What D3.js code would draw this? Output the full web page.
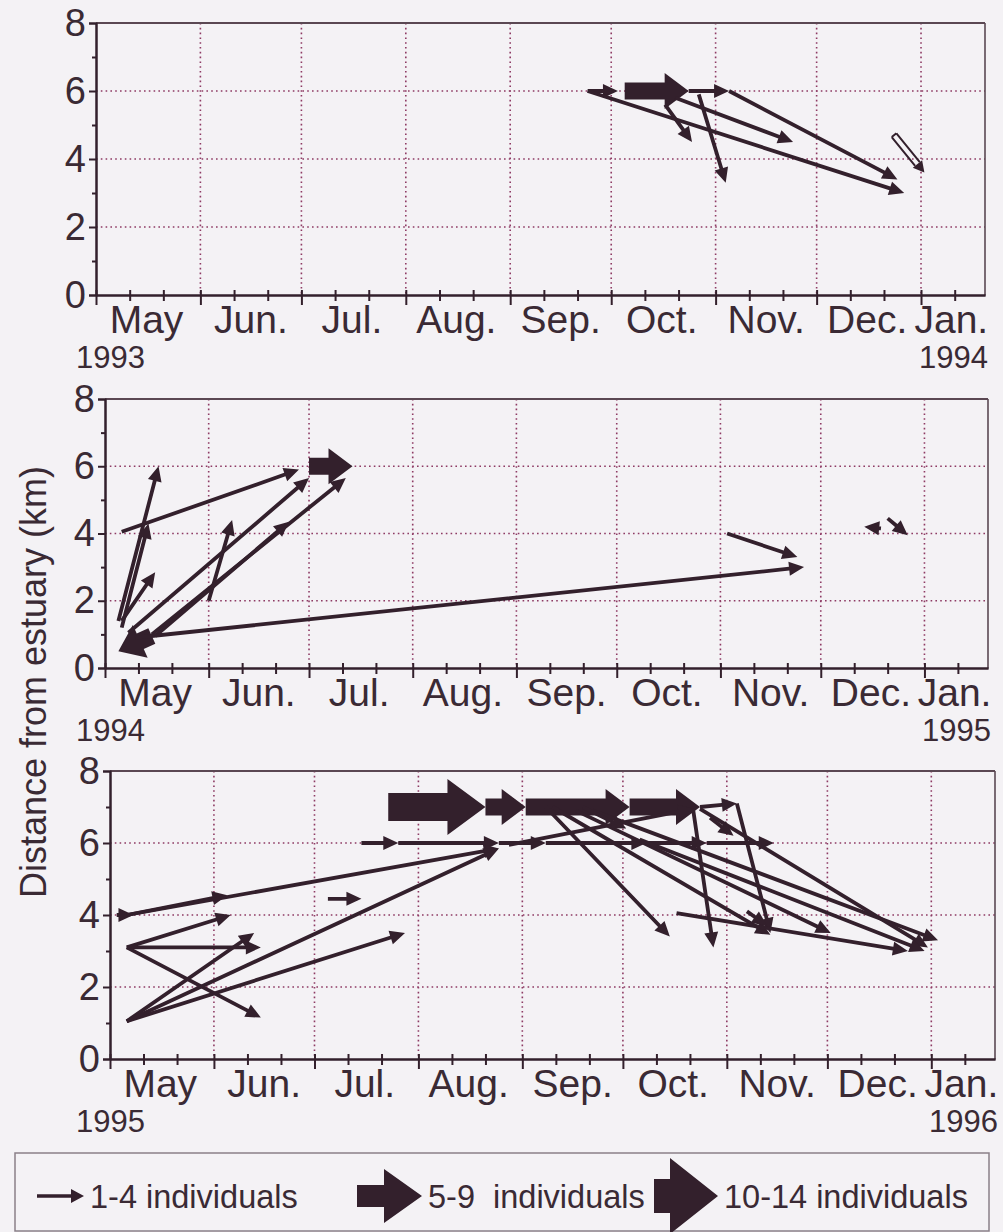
<!DOCTYPE html>
<html>
<head>
<meta charset="utf-8">
<script src="https://cdn.jsdelivr.net/npm/d3@7"></script>
<style>
  html, body { margin: 0; padding: 0; background: #f4f2f5; }
  svg { display: block; font-family: "Liberation Sans", Arial, sans-serif; }
</style>
</head>
<body>
<svg id="chart" width="1003" height="1232"></svg>
<script>
const MONTH_LABELS = ["May", "Jun.", "Jul.", "Aug.", "Sep.", "Oct.", "Nov.", "Dec.", "Jan."];
const Y_MAJOR = [0, 2, 4, 6, 8];
const Y_MINOR = [1, 3, 5, 7];
const Y_GRID = [2, 4, 6];
const PANEL_YEARS = [1993, 1994, 1995];
const Y_TITLE = "Distance from estuary (km)";
const LEGEND_LABELS = ["1-4 individuals", "5-9\u00a0 individuals", "10-14 individuals"];

// each move: [from date, from km, to date, to km, size class]
// size class 1 = 1-4, 2 = 5-9, 3 = 10-14 individuals, 0 = open (outlined) arrow
const moves1993 = [
  ["1993-09-24", 6.0, "1993-10-03", 6.0, 1],
  ["1993-10-05", 6.0, "1993-10-24", 6.0, 2],
  ["1993-10-24", 6.0, "1993-11-05", 6.0, 1],
  ["1993-09-24", 6.0, "1993-12-27", 3.0, 1],
  ["1993-11-05", 6.0, "1993-12-25", 3.4, 1],
  ["1993-10-20", 5.8, "1993-11-24", 4.5, 1],
  ["1993-10-17", 5.6, "1993-10-25", 4.5, 1],
  ["1993-10-27", 5.9, "1993-11-04", 3.3, 1],
  ["1993-12-24", 4.7, "1994-01-02", 3.6, 0]
];

const moves1994 = [
  ["1994-05-15", 0.95, "1994-05-05", 0.5, 2],
  ["1994-07-01", 6.0, "1994-07-14", 6.0, 2],
  ["1994-05-06", 4.05, "1994-06-28", 5.9, 1],
  ["1994-05-05", 1.4, "1994-05-17", 6.0, 1],
  ["1994-05-06", 1.4, "1994-05-16", 2.85, 1],
  ["1994-05-06", 1.2, "1994-05-14", 4.3, 1],
  ["1994-05-08", 1.05, "1994-07-01", 5.65, 1],
  ["1994-05-15", 1.0, "1994-07-12", 5.65, 1],
  ["1994-05-16", 0.95, "1994-06-25", 4.35, 1],
  ["1994-06-01", 2.0, "1994-06-08", 4.4, 1],
  ["1994-05-10", 0.9, "1994-11-26", 3.0, 1],
  ["1994-11-03", 4.0, "1994-11-24", 3.3, 1],
  ["1994-12-19", 4.15, "1994-12-14", 4.2, 1],
  ["1994-12-21", 4.45, "1994-12-27", 3.95, 1]
];

const moves1995 = [
  ["1995-07-23", 7.0, "1995-08-21", 7.0, 3],
  ["1995-08-21", 7.0, "1995-09-02", 7.0, 2],
  ["1995-09-02", 7.0, "1995-10-03", 7.0, 2],
  ["1995-10-03", 7.0, "1995-10-24", 7.0, 2],
  ["1995-10-24", 7.0, "1995-11-04", 7.1, 1],
  ["1995-07-15", 6.0, "1995-07-26", 6.0, 1],
  ["1995-07-26", 6.0, "1995-08-25", 6.0, 1],
  ["1995-08-25", 6.0, "1995-09-08", 6.0, 1],
  ["1995-09-08", 6.0, "1995-10-08", 6.0, 1],
  ["1995-10-08", 6.0, "1995-10-26", 6.0, 1],
  ["1995-10-26", 6.0, "1995-11-15", 6.0, 1],
  ["1995-05-03", 4.0, "1995-05-08", 4.0, 1],
  ["1995-05-06", 4.0, "1995-06-05", 4.55, 1],
  ["1995-05-06", 4.0, "1995-08-25", 5.85, 1],
  ["1995-05-06", 3.1, "1995-06-06", 4.0, 1],
  ["1995-05-06", 3.1, "1995-06-15", 3.1, 1],
  ["1995-05-06", 3.1, "1995-06-15", 1.15, 1],
  ["1995-05-06", 1.05, "1995-06-13", 3.5, 1],
  ["1995-05-06", 1.05, "1995-07-28", 3.5, 1],
  ["1995-05-06", 1.05, "1995-08-25", 5.85, 1],
  ["1995-07-05", 4.45, "1995-07-15", 4.45, 1],
  ["1995-08-28", 5.95, "1995-10-22", 6.95, 1],
  ["1995-09-08", 7.0, "1995-10-15", 3.4, 1],
  ["1995-09-10", 7.0, "1995-11-14", 3.45, 1],
  ["1995-09-17", 6.9, "1995-12-02", 3.5, 1],
  ["1995-09-22", 6.9, "1996-01-03", 3.3, 1],
  ["1995-10-22", 6.9, "1995-10-28", 3.1, 1],
  ["1995-11-04", 7.1, "1995-11-14", 3.5, 1],
  ["1995-10-24", 6.95, "1995-12-31", 3.1, 1],
  ["1995-10-06", 6.1, "1995-12-30", 3.0, 1],
  ["1995-10-17", 4.05, "1995-12-25", 3.0, 1],
  ["1995-11-07", 4.1, "1995-11-13", 3.7, 1],
  ["1995-10-27", 6.7, "1995-11-03", 6.2, 1],
  ["1995-09-19", 7.0, "1995-10-02", 6.4, 1]
];

const INK = "#33202c";
const TEXT = "#3a2a34";
const GRID = "#8e3b64";
const BG = "#f4f2f5";

// arrow shapes in the plots and in the legend
const PLOT_ARROW = {
  0: { shaft: 3, head: 6, headLen: 11 },
  1: { shaft: 1.9, head: 7, headLen: 15 },
  2: { shaft: 8.5, head: 18, headLen: 24 },
  3: { shaft: 14, head: 28, headLen: 38 }
};
const LEGEND_ARROW = {
  1: { shaft: 1.8, head: 7, headLen: 13 },
  2: { shaft: 11, head: 27, headLen: 38 },
  3: { shaft: 17, head: 38, headLen: 48 }
};

const parseDate = d3.timeParse("%Y-%m-%d");
const svg = d3.select("#chart");

svg.append("rect").attr("width", 1003).attr("height", 1232).attr("fill", BG);

const panels = [
  { year: 1993, moves: moves1993, left: 96, right: 985, top: 23, bottom: 295 },
  { year: 1994, moves: moves1994, left: 105, right: 988, top: 399, bottom: 668 },
  { year: 1995, moves: moves1995, left: 110, right: 995, top: 771, bottom: 1059 }
];

function arrowPath(len, s) {
  const hl = Math.min(s.headLen, len);
  const b = len - hl;
  return `M0,${-s.shaft}L${b},${-s.shaft}L${b},${-s.head}L${len},0L${b},${s.head}L${b},${s.shaft}L0,${s.shaft}Z`;
}

function drawArrow(g, x1, y1, x2, y2, s, hollow) {
  const dx = x2 - x1, dy = y2 - y1;
  const len = Math.sqrt(dx * dx + dy * dy);
  const ang = Math.atan2(dy, dx) * 180 / Math.PI;
  const a = g.append("g").attr("transform", `translate(${x1},${y1}) rotate(${ang})`);
  if (hollow) {
    // outlined shaft with a solid head
    const b = len - s.headLen;
    a.append("path")
      .attr("d", `M0,${-s.shaft}L${b},${-s.shaft}M0,${s.shaft}L${b},${s.shaft}M0,${-s.shaft}L0,${s.shaft}`)
      .attr("fill", "none").attr("stroke", INK).attr("stroke-width", 2);
    a.append("path")
      .attr("d", `M${b},${-s.head}L${len},0L${b},${s.head}Z`)
      .attr("fill", INK);
    return;
  }
  a.append("path")
    .attr("d", arrowPath(len, s))
    .attr("fill", INK);
}

panels.forEach((p) => {
  const start = new Date(p.year, 4, 1);
  const end = new Date(p.year + 1, 0, 20);
  const x = d3.scaleTime().domain([start, end]).range([p.left, p.right]);
  const y = d3.scaleLinear().domain([0, 8]).range([p.bottom, p.top]);

  const g = svg.append("g");
  const monthStarts = d3.timeMonth.range(start, end);
  const minorTicks = [];
  monthStarts.forEach((m) => {
    [11, 21].forEach((day) => {
      const t = new Date(m.getFullYear(), m.getMonth(), day);
      if (t < end) minorTicks.push(t);
    });
  });

  // dotted grid
  g.append("g").selectAll("line")
    .data(monthStarts.slice(1))
    .join("line")
    .attr("x1", (d) => x(d)).attr("x2", (d) => x(d))
    .attr("y1", y(8)).attr("y2", y(0))
    .attr("stroke", GRID).attr("stroke-width", 1.6)
    .attr("stroke-dasharray", "1.6,3.2");
  g.append("g").selectAll("line")
    .data(Y_GRID)
    .join("line")
    .attr("x1", p.left).attr("x2", p.right)
    .attr("y1", (d) => y(d)).attr("y2", (d) => y(d))
    .attr("stroke", GRID).attr("stroke-width", 1.6)
    .attr("stroke-dasharray", "1.6,3.2");

  // top and right frame
  g.append("line")
    .attr("x1", p.left).attr("x2", p.right)
    .attr("y1", y(8)).attr("y2", y(8))
    .attr("stroke", "#5b4853").attr("stroke-width", 2);
  g.append("line")
    .attr("x1", p.right).attr("x2", p.right)
    .attr("y1", y(8)).attr("y2", y(0))
    .attr("stroke", "#5b4853").attr("stroke-width", 1.6);

  // movement arrows
  const ag = g.append("g");
  p.moves.forEach((m) => {
    const size = m[4];
    drawArrow(ag, x(parseDate(m[0])), y(m[1]), x(parseDate(m[2])), y(m[3]), PLOT_ARROW[size], size === 0);
  });

  // x axis
  const xMinor = g.append("g")
    .attr("transform", `translate(0,${p.bottom})`)
    .call(d3.axisBottom(x).tickValues(minorTicks).tickSize(6).tickSizeOuter(0).tickFormat(""));
  xMinor.selectAll(".tick line").attr("y1", -5);
  const xMajor = g.append("g")
    .attr("transform", `translate(0,${p.bottom})`)
    .call(d3.axisBottom(x).tickValues(monthStarts).tickSize(10).tickSizeOuter(0).tickFormat(""));
  xMajor.selectAll(".tick line").attr("y1", -5);
  [xMinor, xMajor].forEach((ax) => {
    ax.selectAll("line, path").attr("stroke", INK).attr("stroke-width", 2);
  });

  // y axis
  const yMajor = g.append("g")
    .attr("transform", `translate(${p.left},0)`)
    .call(d3.axisLeft(y).tickValues(Y_MAJOR).tickSize(7).tickPadding(3).tickFormat(d3.format("d")));
  yMajor.selectAll("text").attr("font-size", 38).attr("fill", TEXT).attr("font-family", "Liberation Sans, Arial, sans-serif");
  const yMinor = g.append("g")
    .attr("transform", `translate(${p.left},0)`)
    .call(d3.axisLeft(y).tickValues(Y_MINOR).tickSize(4).tickSizeOuter(0).tickFormat(""));
  [yMajor, yMinor].forEach((ax) => {
    ax.selectAll("line, path").attr("stroke", INK).attr("stroke-width", 2);
  });

  // month labels centred in their month
  const labelDates = MONTH_LABELS.map((lab, i) =>
    i < 8 ? new Date(p.year, 4 + i, 16) : new Date(p.year + 1, 0, 10));
  g.append("g").selectAll("text")
    .data(MONTH_LABELS)
    .join("text")
    .attr("x", (d, i) => x(labelDates[i]))
    .attr("y", p.bottom + 38)
    .attr("text-anchor", "middle")
    .attr("font-size", 39)
    .attr("fill", TEXT)
    .text((d) => d);

  g.append("text")
    .attr("x", 76).attr("y", p.bottom + 73)
    .attr("font-size", 31).attr("fill", TEXT)
    .text(p.year);
  g.append("text")
    .attr("x", p.right + 3).attr("y", p.bottom + 73)
    .attr("text-anchor", "end")
    .attr("font-size", 31).attr("fill", TEXT)
    .text(p.year + 1);
});

// y axis title
svg.append("text")
  .attr("transform", "translate(46,682) rotate(-90)")
  .attr("text-anchor", "middle")
  .attr("font-size", 36)
  .attr("fill", TEXT)
  .text(Y_TITLE);

// legend
const legend = svg.append("g");
legend.append("rect")
  .attr("x", 15).attr("y", 1153).attr("width", 974).attr("height", 78)
  .attr("fill", "none").attr("stroke", "#8a8088").attr("stroke-width", 1.5);

const legendItems = [
  { size: 1, x1: 37, x2: 84, tx: 90 },
  { size: 2, x1: 357, x2: 422, tx: 428 },
  { size: 3, x1: 654, x2: 718, tx: 724 }
];
legendItems.forEach((it, i) => {
  drawArrow(legend, it.x1, 1196, it.x2, 1196, LEGEND_ARROW[it.size], false);
  legend.append("text")
    .attr("x", it.tx).attr("y", 1208)
    .attr("font-size", 32.5)
    .attr("fill", TEXT)
    .text(LEGEND_LABELS[i]);
});
</script>
</body>
</html>
